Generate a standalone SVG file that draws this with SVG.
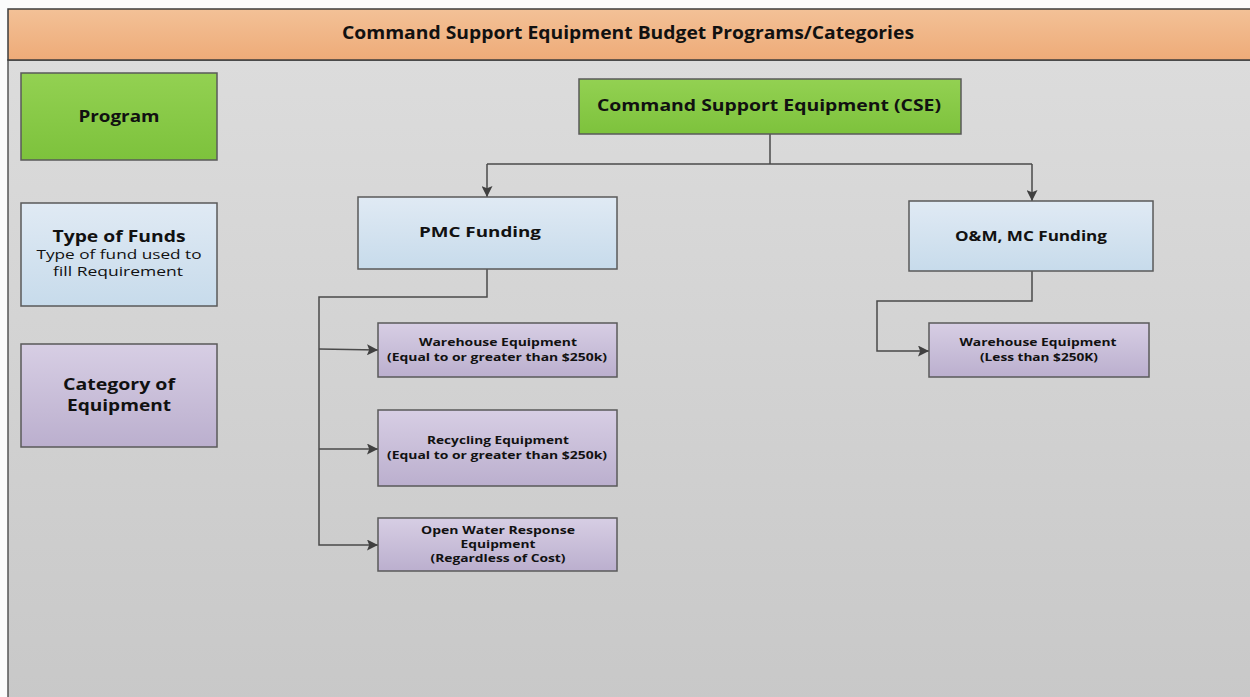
<svg xmlns="http://www.w3.org/2000/svg" width="1250" height="697" viewBox="0 0 1250 697">
  <defs>
    <linearGradient id="gBack" x1="0" y1="0" x2="0" y2="1">
      <stop offset="0" stop-color="#dcdcdc"/>
      <stop offset="1" stop-color="#c8c8c8"/>
    </linearGradient>
    <linearGradient id="gHead" x1="0" y1="0" x2="0" y2="1">
      <stop offset="0" stop-color="#f3c197"/>
      <stop offset="1" stop-color="#eeab78"/>
    </linearGradient>
    <linearGradient id="gGreen" x1="0" y1="0" x2="0" y2="1">
      <stop offset="0" stop-color="#93d152"/>
      <stop offset="1" stop-color="#7dc23c"/>
    </linearGradient>
    <linearGradient id="gBlue" x1="0" y1="0" x2="0" y2="1">
      <stop offset="0" stop-color="#e0eaf4"/>
      <stop offset="1" stop-color="#c7dbeb"/>
    </linearGradient>
    <linearGradient id="gPurple" x1="0" y1="0" x2="0" y2="1">
      <stop offset="0" stop-color="#d7cee4"/>
      <stop offset="1" stop-color="#bbafce"/>
    </linearGradient>
    <marker id="arrow" viewBox="0 0 10 10" refX="10" refY="5" markerWidth="11" markerHeight="11" markerUnits="userSpaceOnUse" orient="auto">
      <path d="M0,0 L10,5 L0,10 L2,5 z" fill="#404040"/>
    </marker>
  </defs>
  <style>
    .box { stroke: #5a5a5a; stroke-width: 1.5; }
    .green { fill: url(#gGreen); }
    .blue { fill: url(#gBlue); }
    .purple { fill: url(#gPurple); }
    text { font-family: "Open Sans", "Noto Sans", "Liberation Sans", sans-serif; fill: #111; text-anchor: middle; }
    .b17 { font-size: 16px; font-weight: bold; }
    .b15 { font-size: 14px; font-weight: bold; }
    .r13 { font-size: 13px; }
    .b11 { font-size: 10.5px; font-weight: bold; }
    .wire { fill: none; stroke: #4a4a4a; stroke-width: 1.5; }
  </style>

  <!-- page frame -->
  <rect x="0" y="0" width="1250" height="697" fill="#fbfbfb"/>
  <rect x="8" y="60" width="1250" height="645" fill="url(#gBack)" stroke="#555" stroke-width="1.5"/>
  <rect id="header" x="8" y="9" width="1250" height="51" fill="url(#gHead)" stroke="#3c3c3c" stroke-width="1.5"/>
  <text x="628" y="39" font-size="17" font-weight="bold" textLength="572" lengthAdjust="spacingAndGlyphs">Command Support Equipment Budget Programs/Categories</text>

  <!-- connectors -->
  <g id="connectors">
    <path class="wire" d="M770,134 V164"/>
    <path class="wire" d="M487,164 H1032"/>
    <path class="wire" d="M487,164 V197" marker-end="url(#arrow)"/>
    <path class="wire" d="M1032,164 V201" marker-end="url(#arrow)"/>
    <path class="wire" d="M487,269 V297 H319 V545 H378" marker-end="url(#arrow)"/>
    <path class="wire" d="M319,349 L378,350" marker-end="url(#arrow)"/>
    <path class="wire" d="M319,449 H378" marker-end="url(#arrow)"/>
    <path class="wire" d="M1032,271 V301 H877 V351 H929" marker-end="url(#arrow)"/>
  </g>

  <!-- legend -->
  <g id="legend-program">
    <rect class="box green" x="21" y="73" width="196" height="87"/>
    <text class="b17" x="119" y="122" textLength="81" lengthAdjust="spacingAndGlyphs">Program</text>
  </g>
  <g id="legend-funds">
    <rect class="box blue" x="21" y="203" width="196" height="103"/>
    <text class="b17" x="119" y="242" textLength="133" lengthAdjust="spacingAndGlyphs">Type of Funds</text>
    <text class="r13" x="119" y="259" textLength="165" lengthAdjust="spacingAndGlyphs">Type of fund used to</text>
    <text class="r13" x="118" y="276" textLength="130" lengthAdjust="spacingAndGlyphs">fill Requirement</text>
  </g>
  <g id="legend-category">
    <rect class="box purple" x="21" y="344" width="196" height="103"/>
    <text class="b17" x="119" y="390" textLength="112" lengthAdjust="spacingAndGlyphs">Category of</text>
    <text class="b17" x="119" y="411" textLength="104" lengthAdjust="spacingAndGlyphs">Equipment</text>
  </g>

  <!-- program -->
  <g id="cse">
    <rect class="box green" x="579" y="79" width="382" height="55"/>
    <text class="b17" x="769" y="111" textLength="344" lengthAdjust="spacingAndGlyphs">Command Support Equipment (CSE)</text>
  </g>

  <!-- funding -->
  <g id="pmc-funding">
    <rect class="box blue" x="358" y="197" width="259" height="72"/>
    <text class="b15" x="480" y="237" textLength="122" lengthAdjust="spacingAndGlyphs">PMC Funding</text>
  </g>
  <g id="om-funding">
    <rect class="box blue" x="909" y="201" width="244" height="70"/>
    <text class="b15" x="1031" y="241" textLength="152" lengthAdjust="spacingAndGlyphs">O&amp;M, MC Funding</text>
  </g>

  <!-- equipment categories -->
  <g id="warehouse-pmc">
    <rect class="box purple" x="378" y="323" width="239" height="54"/>
    <text class="b11" x="498" y="346" textLength="158" lengthAdjust="spacingAndGlyphs">Warehouse Equipment</text>
    <text class="b11" x="497" y="361" textLength="220" lengthAdjust="spacingAndGlyphs">(Equal to or greater than $250k)</text>
  </g>
  <g id="recycling-pmc">
    <rect class="box purple" x="378" y="410" width="239" height="76"/>
    <text class="b11" x="498" y="444" textLength="142" lengthAdjust="spacingAndGlyphs">Recycling Equipment</text>
    <text class="b11" x="497" y="459" textLength="220" lengthAdjust="spacingAndGlyphs">(Equal to or greater than $250k)</text>
  </g>
  <g id="openwater-pmc">
    <rect class="box purple" x="378" y="518" width="239" height="53"/>
    <text class="b11" x="498" y="534" textLength="154" lengthAdjust="spacingAndGlyphs">Open Water Response</text>
    <text class="b11" x="498" y="548" textLength="75" lengthAdjust="spacingAndGlyphs">Equipment</text>
    <text class="b11" x="498" y="562" textLength="135" lengthAdjust="spacingAndGlyphs">(Regardless of Cost)</text>
  </g>
  <g id="warehouse-om">
    <rect class="box purple" x="929" y="323" width="220" height="54"/>
    <text class="b11" x="1038" y="346" textLength="157" lengthAdjust="spacingAndGlyphs">Warehouse Equipment</text>
    <text class="b11" x="1039" y="361" textLength="118" lengthAdjust="spacingAndGlyphs">(Less than $250K)</text>
  </g>
</svg>
